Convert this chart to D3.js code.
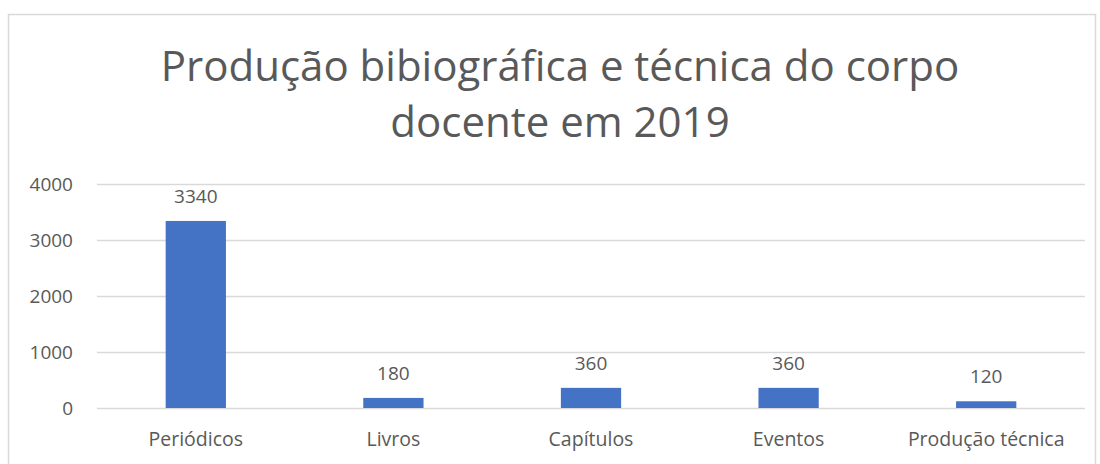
<!DOCTYPE html>
<html>
<head>
<meta charset="utf-8">
<script src="https://cdn.jsdelivr.net/npm/d3@7"></script>
<style>
body{margin:0;background:#fff}
text{font-family:"Open Sans",sans-serif;fill:#595959}
</style>
</head>
<body>
<div class="Chart"></div>
<script>
const categories=['Periódicos','Livros','Capítulos','Eventos','Produção técnica']
const values=[3340,180,360,360,120]
const yTicks=[0,1000,2000,3000,4000]
const titleLines=['Produção bibiográfica e técnica do corpo','docente em 2019']

const W=1100,H=464
const margin=({top:184,right:15,bottom:56,left:97})
const width=W-margin.left-margin.right,
	  height=H-margin.top-margin.bottom

let root=d3.select('.Chart').append('svg')
	.attr('width',W)
	.attr('height',H)

root.append('rect')
	.attr('x',8.5).attr('y',14.5)
	.attr('width',1087).attr('height',460)
	.attr('fill','none')
	.attr('stroke','#d9d9d9')
	.attr('stroke-width',1.5)

root.selectAll('.title')
	.data(titleLines)
	.enter().append('text')
	.attr('class','title')
	.attr('x',560)
	.attr('y',(d,i)=>81+i*56)
	.attr('text-anchor','middle')
	.style('font-size','42px')
	.text(d=>d)

let svg=root.append('g')
	.attr('transform','translate('+margin.left+','+margin.top+')')

let xScale=d3.scaleBand()
	.domain(categories)
	.range([0,width])
	.paddingInner(0.695)
	.paddingOuter(0.3475)

let yScale=d3.scaleLinear()
	.domain([0,4000])
	.range([height,0])

svg.selectAll('.grid')
	.data(yTicks)
	.enter().append('line')
	.attr('class','grid')
	.attr('x1',0).attr('x2',width)
	.attr('y1',d=>Math.round(yScale(d))+0.5)
	.attr('y2',d=>Math.round(yScale(d))+0.5)
	.attr('stroke','#d9d9d9')
	.attr('stroke-width',1.5)

svg.selectAll('.ylab')
	.data(yTicks)
	.enter().append('text')
	.attr('class','ylab')
	.attr('x',-24)
	.attr('y',d=>yScale(d)+7)
	.attr('text-anchor','end')
	.style('font-size','19px')
	.text(d=>d)

svg.selectAll('.bar')
	.data(values)
	.enter().append('rect')
	.attr('class','bar')
	.attr('x',(d,i)=>xScale(categories[i]))
	.attr('width',xScale.bandwidth())
	.attr('y',d=>yScale(d))
	.attr('height',d=>height-yScale(d))
	.attr('fill','#4472c4')

svg.selectAll('.vlab')
	.data(values)
	.enter().append('text')
	.attr('class','vlab')
	.attr('x',(d,i)=>xScale(categories[i])+xScale.bandwidth()/2)
	.attr('y',d=>yScale(d)-18)
	.attr('text-anchor','middle')
	.style('font-size','19px')
	.text(d=>d)

svg.selectAll('.xlab')
	.data(categories)
	.enter().append('text')
	.attr('class','xlab')
	.attr('x',d=>xScale(d)+xScale.bandwidth()/2)
	.attr('y',height+38)
	.attr('text-anchor','middle')
	.style('font-size','19.5px')
	.text(d=>d)
</script>
</body>
</html>
